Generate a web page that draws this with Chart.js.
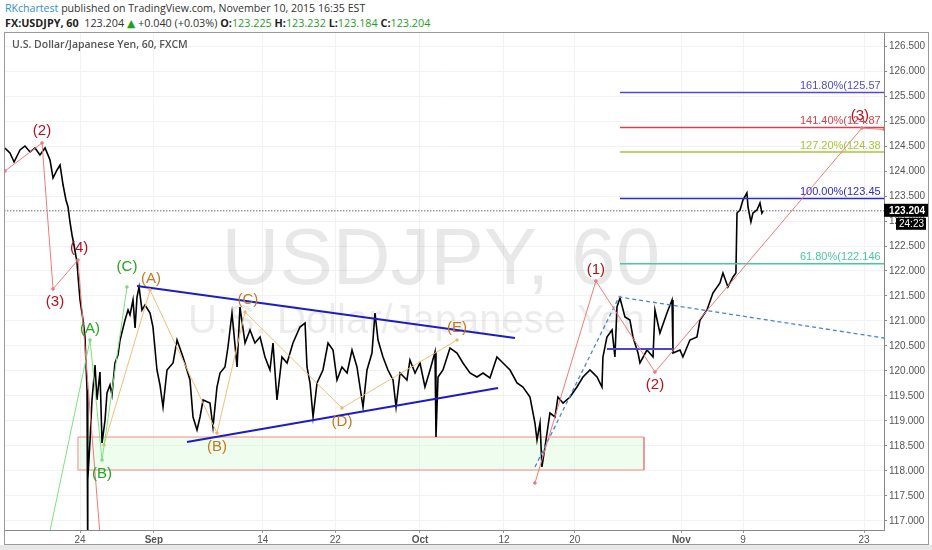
<!DOCTYPE html>
<html lang="en">
<head>
<meta charset="UTF-8" />
<title>USDJPY, 60</title>
<script src="https://cdn.jsdelivr.net/npm/chart.js@4.4.0/dist/chart.umd.min.js"></script>
<style>
  body { margin: 0; background: #fff; font-family: "Open Sans", "DejaVu Sans", sans-serif; width: 932px; height: 550px; position: relative; overflow: hidden; }
  .head1 { position: absolute; left: 5px; top: 1px; font-size: 10.6px; color: #333; white-space: nowrap; }
  .head1 span { color: #2f8fd0; }
  .head2 { position: absolute; left: 5px; top: 15px; font-size: 10.8px; color: #333; white-space: nowrap; }
  .head2 b { color: #222; font-weight: 700; }
  .g { color: #1ea01e; }
  .chartBox { position: absolute; left: 4px; top: 32px; width: 925px; height: 513px; border: 1px solid #9a9a9a; box-sizing: border-box; }
  .sym { position: absolute; left: 7px; top: 4px; font-size: 10.5px; color: #555; font-weight: 600; z-index: 2; }
  .foot { position: absolute; left: 0; top: 545px; width: 932px; height: 5px; background: #e8e8e8; }
</style>
</head>
<body>
  <div class="head1"><span>RKchartest</span> published on TradingView.com, November 10, 2015 16:35 EST</div>
  <div class="head2"><b>FX:USDJPY, 60</b>&nbsp; 123.204 <span class="g">▲</span> +0.040 (+0.03%) <b>O:</b><span class="g">123.225</span> <b>H:</b><span class="g">123.232</span> <b>L:</b><span class="g">123.184</span> <b>C:</b><span class="g">123.204</span></div>

  <div class="chartBox">
    <div class="sym">U.S. Dollar/Japanese Yen, 60, FXCM</div>
    <canvas id="myChart" width="923" height="511"></canvas>
  </div>
  <div class="foot"></div>

<script>
// x = trading days counted from Mon Aug 24 2015 (weekends skipped), y = price
const xTickPos = [0, 6.1, 15.1, 21.1, 28.1, 35.04, 40.9, 49.7, 54.8, 64.8];
const xTickText = ['24', 'Sep', '14', '22', 'Oct', '12', '20', 'Nov', '9', '23'];
const yTicks = [117, 117.5, 118, 118.5, 119, 119.5, 120, 120.5, 121, 121.5, 122, 122.5,
  123, 123.5, 124, 124.5, 125, 125.5, 126, 126.5];

// USDJPY hourly path
const priceDay = [
  -6.20, -5.79, -5.45, -4.96, -4.55, -4.13, -3.72, -3.31, -2.89, -2.48,
  -2.23, -1.90, -1.65, -1.40, -1.16, -0.99, -0.83, -0.66, -0.50, -0.25,
  -0.17, 0, 0.25, 0.41, 0.58, 0.62, 0.66, 0.83, 0.99, 1.24,
  1.40, 1.65, 1.82, 2.07, 2.23, 2.48, 2.64, 2.89, 3.14, 3.31,
  3.72, 3.97, 4.13, 4.38, 4.55, 4.71, 4.88, 5.12, 5.37, 5.79,
  6.03, 6.36, 6.61, 6.86, 7.19, 7.69, 8.02, 8.51, 9.09, 9.34,
  9.67, 9.92, 10.17, 10.74, 10.99, 11.32, 11.57, 11.98, 12.23, 12.56,
  12.98, 13.22, 13.64, 14.05, 14.46, 14.88, 15.29, 15.70, 15.95, 16.28,
  16.69, 17.11, 17.60, 18.18, 18.60, 18.76, 19.01, 19.26, 19.59, 20.08,
  20.50, 20.91, 21.24, 21.65, 22.07, 22.48, 22.89, 23.39, 23.72, 24.13,
  24.38, 24.63, 25.04, 25.45, 25.87, 26.12, 26.45, 27.02, 27.27, 27.69,
  28.10, 28.51, 28.93, 29.34, 29.42, 29.59, 30.00, 30.58, 31.16, 31.65,
  32.23, 32.81, 33.31, 33.88, 34.46, 34.96, 35.54, 36.12, 36.61, 37.19,
  37.60, 37.77, 38.02, 38.18, 38.43, 38.84, 39.26, 39.50, 39.92, 40.50,
  41.07, 41.57, 42.15, 42.73, 43.14, 43.22, 43.55, 43.97, 44.21, 44.38,
  44.63, 45.04, 45.45, 45.70, 46.12, 46.28, 46.86, 47.36, 47.52, 47.93,
  48.51, 48.93, 49.01, 49.59, 49.83, 50.41, 50.99, 51.24, 51.82, 52.31,
  52.89, 53.14, 53.55, 53.97, 54.21, 54.30, 54.55, 54.79, 55.12, 55.21,
  55.45, 55.62, 55.95, 56.20, 56.36, 56.45
];
const priceVal = [
  124.46, 124.36, 124.18, 124.42, 124.50, 124.38, 124.46, 124.32, 124.46, 124.22,
  123.86, 124.02, 124.12, 123.72, 123.42, 123.28, 122.98, 122.72, 122.52, 122.18,
  121.92, 121.42, 121.02, 120.68, 119.62, 116.15, 117.82, 118.62, 119.42, 120.12,
  119.42, 119.98, 118.56, 119.02, 119.56, 119.72, 119.52, 120.16, 120.32, 120.62,
  121.02, 121.22, 121.12, 121.42, 120.86, 121.48, 121.68, 121.22, 121.32, 121.16,
  120.88, 120.02, 119.72, 119.28, 120.02, 120.16, 120.62, 120.28, 119.82, 119.08,
  118.82, 119.08, 119.42, 119.36, 118.88, 119.68, 119.96, 120.08, 120.48, 121.16,
  120.08, 121.28, 120.56, 120.82, 120.56, 120.68, 120.28, 120.02, 120.56, 119.42,
  120.28, 120.16, 120.56, 120.88, 120.96, 120.08, 119.76, 119.08, 119.76, 120.02,
  120.56, 120.42, 119.82, 120.08, 119.96, 120.42, 120.08, 119.28, 120.02, 120.36,
  121.16, 120.62, 120.28, 120.02, 119.82, 119.28, 119.96, 119.82, 120.22, 119.96,
  120.16, 119.68, 120.02, 120.38, 118.68, 119.88, 120.02, 120.46, 120.36, 120.16,
  119.96, 119.88, 119.96, 119.86, 120.28, 120.16, 120.02, 119.76, 119.68, 119.48,
  118.96, 118.62, 118.96, 118.08, 118.48, 119.16, 119.08, 119.48, 119.36, 119.48,
  119.68, 119.88, 120.02, 119.88, 119.68, 120.28, 120.68, 120.82, 120.28, 121.28,
  121.46, 121.08, 121.02, 120.68, 120.36, 120.16, 120.42, 120.28, 121.22, 120.76,
  121.16, 121.42, 120.36, 120.42, 120.28, 120.62, 120.68, 121.02, 121.22, 121.56,
  121.76, 121.96, 121.68, 121.88, 121.96, 123.16, 123.22, 123.42, 123.56, 123.28,
  122.98, 123.16, 123.22, 123.36, 123.16, 123.204
];
const lastPrice = 123.204;

// drawings
const redWaveDay = [-6.20, -3.14, -2.23, -0.17, 1.82];
const redWaveVal = [124.00, 124.56, 121.64, 122.22, 116.22];
const greenWaveDay = [-2.64, 0.83, 1.82, 3.88];
const greenWaveVal = [116.62, 120.62, 118.22, 121.68];
const orangeWaveDay = [1.98, 5.79, 11.32, 13.64, 21.65, 31.16];
const orangeWaveVal = [118.52, 121.62, 118.76, 121.18, 119.26, 120.62];
const impulseDay = [37.60, 42.64, 47.52, 64.63, 66.45];
const impulseVal = [117.76, 121.80, 119.98, 124.86, 124.83];
const triUpperDay = [4.71, 35.95];
const triUpperVal = [121.70, 120.66];
const triLowerDay = [8.84, 34.55];
const triLowerVal = [118.58, 119.66];
const channelDay = [37.60, 44.55, 66.45];
const channelVal = [118.08, 121.48, 120.66];
const baseDay = [43.55, 49.01];
const baseVal = [120.44, 120.44];
const zoneDay = [-0.17, 46.61];
const zoneVal = [118.02, 118.68];

const fibLevels = [125.57, 124.87, 124.38, 123.45, 122.146];
const fibText = ['161.80%(125.57', '141.40%(124.87', '127.20%(124.38', '100.00%(123.45', '61.80%(122.146'];
const fibColors = ['#4b4bd6', '#d8404c', '#a6c63c', '#2a2ad2', '#48c89e'];
const fibFrom = 44.63, fibTo = 66.45, fibTextDay = 59.5;

const waveText = ['(2)', '(3)', '(4)', '(A)', '(B)', '(C)', '(A)', '(B)', '(C)', '(D)', '(E)', '(1)', '(2)', '(3)'];
const waveDay = [-3.14, -2.07, -0.08, 0.83, 1.82, 3.88, 5.87, 11.32, 13.88, 21.65, 31.16, 42.64, 47.52, 64.46];
const waveVal = [124.80, 121.38, 122.46, 120.84, 117.94, 122.08, 121.84, 118.48, 121.42, 118.98, 120.86, 122.02, 119.72, 125.10];
const waveColor = ['#b3121c', '#b3121c', '#b3121c', '#22a822', '#22a822', '#22a822',
  '#c27a1e', '#c27a1e', '#c27a1e', '#c27a1e', '#c27a1e', '#b3121c', '#b3121c', '#b3121c'];

const pts = (xs, ys) => xs.map((d, i) => ({ x: d, y: ys[i] }));

function seg(data, color, width, extra) {
  return Object.assign({
    data: data, borderColor: color, borderWidth: width, pointRadius: 0, pointHoverRadius: 0,
    fill: false, tension: 0, order: 1
  }, extra || {});
}

// no extra room for edge labels, the plot runs to the frame
function noPad(s) {
  s.paddingTop = 0; s.paddingBottom = 0; s.paddingLeft = 0; s.paddingRight = 0;
}

window.addEventListener('load', setup);

function setup() {
  const ctx = document.getElementById('myChart').getContext('2d');

  const datasets = [];
  // support zone
  datasets.push(seg([
    { x: zoneDay[0], y: zoneVal[1] }, { x: zoneDay[1], y: zoneVal[1] },
    { x: zoneDay[1], y: zoneVal[0] }, { x: zoneDay[0], y: zoneVal[0] },
    { x: zoneDay[0], y: zoneVal[1] }
  ], '#f08a8a', 1, { fill: 'shape', backgroundColor: 'rgba(205,250,205,0.35)', order: 10 }));
  // price
  datasets.push(seg(pts(priceDay, priceVal), '#000', 1.6, { order: 5 }));
  // last price dotted
  datasets.push(seg([{ x: -7, y: lastPrice }, { x: 67, y: lastPrice }], '#222', 1, { borderDash: [1, 2], order: 4 }));
  // wave lines
  datasets.push(seg(pts(redWaveDay, redWaveVal), '#f07a7a', 1, { pointRadius: 1.3, pointBackgroundColor: '#f07a7a' }));
  datasets.push(seg(pts(greenWaveDay, greenWaveVal), '#7ee27e', 1, { pointRadius: 1.3, pointBackgroundColor: '#6cd86c' }));
  datasets.push(seg(pts(orangeWaveDay, orangeWaveVal), '#f2be78', 1, { pointRadius: 1.3, pointBackgroundColor: '#eea860' }));
  datasets.push(seg(pts(impulseDay, impulseVal), '#f07a7a', 1, { pointRadius: 1.3, pointBackgroundColor: '#f07a7a' }));
  // triangle
  datasets.push(seg(pts(triUpperDay, triUpperVal), '#1c1cc8', 2));
  datasets.push(seg(pts(triLowerDay, triLowerVal), '#1c1cc8', 2));
  // channel
  datasets.push(seg(pts(channelDay, channelVal), '#4a82da', 1.3, { borderDash: [4, 3] }));
  datasets.push(seg(pts(baseDay, baseVal), '#4646d2', 2));
  // fib levels
  fibLevels.forEach((lv, i) => {
    datasets.push(seg([{ x: fibFrom, y: lv }, { x: fibTo, y: lv }], fibColors[i], 1.5));
  });

  const overlay = {
    id: 'overlay',
    beforeDatasetsDraw(chart) {
      const c = chart.ctx, a = chart.chartArea;
      c.save();
      c.textAlign = 'center';
      c.textBaseline = 'middle';
      c.fillStyle = 'rgba(0,0,0,0.09)';
      c.font = '80px "Liberation Sans", Arial, sans-serif';
      c.fillText('USDJPY, 60', a.left + a.width * 0.496, a.top + a.height * 0.461);
      c.fillStyle = 'rgba(0,0,0,0.075)';
      c.font = '40px "Liberation Sans", Arial, sans-serif';
      c.fillText('U.S. Dollar/Japanese Yen', a.left + a.width * 0.468, a.top + a.height * 0.581);
      c.restore();
    },
    afterDatasetsDraw(chart) {
      const c = chart.ctx, a = chart.chartArea;
      const x = chart.scales.x, y = chart.scales.y;
      c.save();
      c.beginPath();
      c.rect(a.left, a.top, a.width, a.height);
      c.clip();
      c.textAlign = 'center';
      c.textBaseline = 'middle';
      c.font = '15px "Liberation Sans", Arial, sans-serif';
      waveText.forEach((t, i) => {
        c.fillStyle = waveColor[i];
        c.fillText(t, x.getPixelForValue(waveDay[i]), y.getPixelForValue(waveVal[i]));
      });
      c.textAlign = 'left';
      c.textBaseline = 'bottom';
      c.font = '11px "Liberation Sans", Arial, sans-serif';
      fibText.forEach((t, i) => {
        c.fillStyle = fibColors[i];
        c.fillText(t, x.getPixelForValue(fibTextDay), y.getPixelForValue(fibLevels[i]) - 1);
      });
      c.restore();
    },
    afterDraw(chart) {
      const c = chart.ctx, a = chart.chartArea;
      const py = chart.scales.y.getPixelForValue(lastPrice);
      c.save();
      c.fillStyle = '#000';
      c.fillRect(a.right, py - 7, 45, 13);
      c.fillRect(a.right + 12, py + 7, 30, 12);
      c.fillStyle = '#fff';
      c.textBaseline = 'middle';
      c.textAlign = 'left';
      c.font = 'bold 10px "Liberation Sans", Arial, sans-serif';
      c.fillText(lastPrice.toFixed(3), a.right + 5, py);
      c.font = '10px "Liberation Sans", Arial, sans-serif';
      c.fillText('24:23', a.right + 15, py + 13);
      c.restore();
    }
  };

  new Chart(ctx, {
    type: 'line',
    data: { datasets: datasets },
    options: {
      responsive: false,
      animation: false,
      events: [],
      layout: { padding: 0, autoPadding: false },
      plugins: { legend: { display: false }, tooltip: { enabled: false } },
      scales: {
        x: {
          type: 'linear',
          min: -6.2,
          max: 66.45,
          afterBuildTicks: s => { s.ticks = xTickPos.map(v => ({ value: v })); },
          afterFit: s => { s.height = 14; noPad(s); },
          grid: { color: '#f2f2f2', tickLength: 3, tickColor: '#999' },
          border: { color: '#888' },
          ticks: {
            autoSkip: false,
            maxRotation: 0,
            padding: 1,
            color: '#555',
            font: c => ({ size: 10, family: '"Liberation Sans", Arial, sans-serif',
              weight: /^[A-Z]/.test(xTickText[c.index] || '') ? 'bold' : 'normal' }),
            callback: (v, i) => xTickText[i]
          }
        },
        y: {
          position: 'right',
          min: 116.82,
          max: 126.76,
          afterBuildTicks: s => { s.ticks = yTicks.map(v => ({ value: v })); },
          afterFit: s => { s.width = 44; noPad(s); },
          grid: { color: '#f2f2f2', tickLength: 3, tickColor: '#888' },
          border: { color: '#888' },
          ticks: {
            padding: 2,
            color: '#555',
            font: { size: 10, family: '"Liberation Sans", Arial, sans-serif' },
            callback: v => Number(v).toFixed(3)
          }
        }
      }
    },
    plugins: [overlay]
  });
}
</script>
</body>
</html>
